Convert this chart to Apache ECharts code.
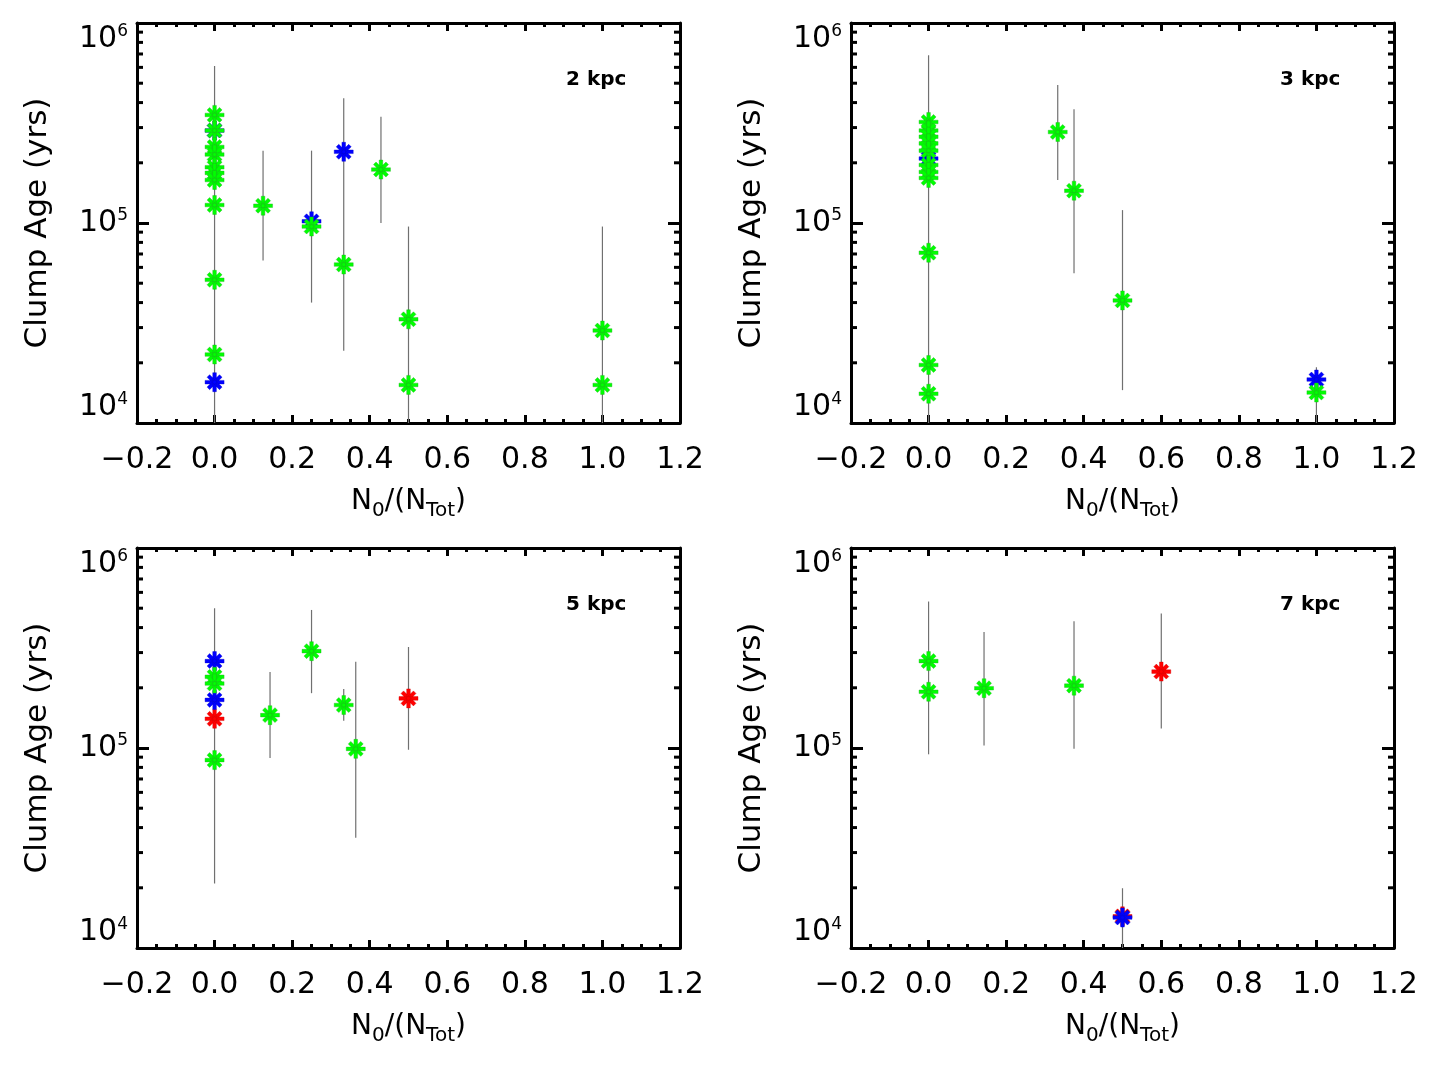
<!DOCTYPE html>
<html>
<head>
    <meta charset="utf-8"/>
    <script src="https://cdn.jsdelivr.net/npm/echarts@6/dist/echarts.min.js"></script>
    <style>
        body { margin: 0; background: #fff; }
    </style>
</head>
<body>
<div id="main" style="width: 1432px;height:1066px;"></div>
<script type="text/javascript">
    // x axis: N0/(NTot), y axis: clump age (yrs), one set per panel
    var X_MIN = -0.2, X_MAX = 1.2;
    var AGE_MIN = 1e4, AGE_MAX = 1e6;
    var ageMinorTicks = [2e4, 3e4, 4e4, 5e4, 6e4, 7e4, 8e4, 9e4,
                         2e5, 3e5, 4e5, 5e5, 6e5, 7e5, 8e5, 9e5];

    // 2 kpc
    var kpc2Green = [[0, 3.47e5], [0, 2.9e5], [0, 2.4e5], [0, 2.2e5], [0, 1.9e5], [0, 1.78e5],
                     [0, 1.64e5], [0, 1.23e5], [0, 5.2e4], [0, 2.2e4], [0.125, 1.22e5],
                     [0.25, 9.6e4], [0.333, 6.2e4], [0.429, 1.85e5], [0.5, 3.3e4], [0.5, 1.55e4],
                     [1.0, 2.9e4], [1.0, 1.55e4]];
    var kpc2Blue = [[0, 2.9e5], [0, 1.6e4], [0.25, 1.02e5], [0.333, 2.27e5]];
    var kpc2Red = [];
    var kpc2Err = [[0, 1e4, 6.1e5], [0.125, 6.5e4, 2.3e5], [0.25, 4.0e4, 2.3e5], [0.333, 2.3e4, 4.2e5],
                   [0.429, 1.0e5, 3.4e5], [0.5, 1e4, 9.6e4], [1.0, 1e4, 9.6e4]];

    // 3 kpc
    var kpc3Green = [[0, 3.2e5], [0, 2.9e5], [0, 2.7e5], [0, 2.5e5], [0, 2.3e5], [0, 1.95e5],
                     [0, 1.8e5], [0, 1.68e5], [0, 7.1e4], [0, 1.95e4], [0, 1.4e4],
                     [0.333, 2.85e5], [0.375, 1.45e5], [0.5, 4.1e4], [1.0, 1.42e4]];
    var kpc3Blue = [[0, 2.1e5], [1.0, 1.65e4]];
    var kpc3Red = [];
    var kpc3Err = [[0, 1e4, 6.9e5], [0.333, 1.64e5, 4.9e5], [0.375, 5.6e4, 3.7e5],
                   [0.5, 1.46e4, 1.16e5], [1.0, 1e4, 1.9e4]];

    // 5 kpc
    var kpc5Green = [[0, 2.27e5], [0, 2.1e5], [0, 8.7e4], [0.143, 1.46e5], [0.25, 3.05e5],
                     [0.333, 1.64e5], [0.364, 9.9e4]];
    var kpc5Blue = [[0, 2.72e5], [0, 1.74e5]];
    var kpc5Red = [[0, 1.4e5], [0.5, 1.77e5]];
    var kpc5Err = [[0, 2.1e4, 5.0e5], [0.143, 8.9e4, 2.4e5], [0.25, 1.88e5, 4.9e5],
                   [0.333, 1.37e5, 1.97e5], [0.364, 3.56e4, 2.7e5], [0.5, 9.8e4, 3.2e5]];

    // 7 kpc
    var kpc7Green = [[0, 2.72e5], [0, 1.91e5], [0.143, 1.99e5], [0.375, 2.05e5]];
    var kpc7Blue = [[0.5, 1.42e4]];
    var kpc7Red = [[0.6, 2.41e5], [0.5, 1.44e4]];
    var kpc7Err = [[0, 9.3e4, 5.4e5], [0.143, 1.03e5, 3.8e5], [0.375, 9.9e4, 4.3e5],
                   [0.6, 1.25e5, 4.7e5], [0.5, 1e4, 1.99e4]];

    var panels = [
        {label: '2 kpc', green: kpc2Green, blue: kpc2Blue, red: kpc2Red, err: kpc2Err},
        {label: '3 kpc', green: kpc3Green, blue: kpc3Blue, red: kpc3Red, err: kpc3Err},
        {label: '5 kpc', green: kpc5Green, blue: kpc5Blue, red: kpc5Red, err: kpc5Err},
        {label: '7 kpc', green: kpc7Green, blue: kpc7Blue, red: kpc7Red, err: kpc7Err}
    ];
    var gridPos = [[137, 23], [851, 23], [137, 548], [851, 548]];

    var FONT = 'DejaVu Sans';
    // 8-armed asterisk like IDL psym=2
    var ASTERISK = 'path://M8.2,0.5L11.8,0.5L11.8,19.5L8.2,19.5Z' +
        'M0.5,8.2L19.5,8.2L19.5,11.8L0.5,11.8Z' +
        'M5.053,2.507L17.493,14.947L14.947,17.493L2.507,5.053Z' +
        'M14.947,2.507L17.493,5.053L5.053,17.493L2.507,14.947Z';

    var myChart = echarts.init(document.getElementById('main'));

    var grids = [], xAxes = [], yAxes = [], series = [], titles = [];

    panels.forEach(function (p, i) {
        grids.push({left: gridPos[i][0], top: gridPos[i][1], width: 543, height: 400});
        titles.push({
            text: p.label, left: gridPos[i][0] + 424, top: gridPos[i][1] + 42,
            textStyle: {fontFamily: FONT, fontSize: 20, fontWeight: 'bold', color: '#000'}
        });

        var xBase = {
            type: 'value', gridIndex: i, min: X_MIN, max: X_MAX, interval: 0.2,
            axisLine: {onZero: false, lineStyle: {color: '#000', width: 3}},
            axisTick: {inside: true, length: 8, lineStyle: {color: '#000', width: 3}},
            minorTick: {show: true, splitNumber: 4, length: 4, lineStyle: {color: '#000', width: 3}},
            splitLine: {show: false}
        };
        xAxes.push(Object.assign({}, xBase, {
            position: 'bottom',
            name: 'N{sub|0}/(N{sub|Tot})',
            nameLocation: 'middle',
            nameGap: 60,
            nameTextStyle: {
                fontFamily: FONT, fontSize: 28, color: '#000',
                rich: {sub: {fontFamily: FONT, fontSize: 20, padding: [18, 0, 0, 0], color: '#000'}}
            },
            axisLabel: {
                margin: 22, fontFamily: FONT, fontSize: 30, color: '#000',
                formatter: function (v) { return v.toFixed(1).replace('-', '\u2212'); }
            }
        }));
        xAxes.push(Object.assign({}, xBase, {position: 'top', axisLabel: {show: false}}));

        var yBase = {
            type: 'log', logBase: 10, gridIndex: i, min: AGE_MIN, max: AGE_MAX,
            axisLine: {onZero: false, lineStyle: {color: '#000', width: 3}},
            axisTick: {inside: true, length: 12, lineStyle: {color: '#000', width: 3}},
            splitLine: {show: false}
        };
        yAxes.push(Object.assign({}, yBase, {
            position: 'left',
            name: 'Clump Age (yrs)',
            nameLocation: 'middle',
            nameGap: 84,
            nameTextStyle: {fontFamily: FONT, fontSize: 31, color: '#000'},
            axisLabel: {
                margin: 9, fontFamily: FONT, fontSize: 30, color: '#000',
                verticalAlignMinLabel: 'bottom', verticalAlignMaxLabel: 'top',
                formatter: function (v) { return '10{sup|' + Math.round(Math.log10(v)) + '}'; },
                rich: {sup: {fontFamily: FONT, fontSize: 17, padding: [0, 0, 15, 0], color: '#000'}}
            }
        }));
        yAxes.push(Object.assign({}, yBase, {position: 'right', axisLabel: {show: false}}));

        var xi = i * 2, yi = i * 2;

        // minor log ticks on left and right frame
        series.push({
            type: 'custom', xAxisIndex: xi, yAxisIndex: yi, silent: true,
            data: ageMinorTicks.map(function (v) { return [X_MIN, v]; }),
            renderItem: function (params, api) {
                var l = api.coord([X_MIN, api.value(1)]);
                var r = api.coord([X_MAX, api.value(1)]);
                return {
                    type: 'group', children: [
                        {type: 'line', shape: {x1: l[0], y1: l[1], x2: l[0] + 6, y2: l[1]},
                            style: {stroke: '#000', lineWidth: 3}},
                        {type: 'line', shape: {x1: r[0] - 6, y1: r[1], x2: r[0], y2: r[1]},
                            style: {stroke: '#000', lineWidth: 3}}
                    ]
                };
            }
        });

        // error bars
        series.push({
            type: 'custom', xAxisIndex: xi, yAxisIndex: yi, silent: true,
            data: p.err,
            encode: {x: 0, y: [1, 2]},
            renderItem: function (params, api) {
                var lo = api.coord([api.value(0), api.value(1)]);
                var hi = api.coord([api.value(0), api.value(2)]);
                return {
                    type: 'line', shape: {x1: lo[0], y1: lo[1], x2: hi[0], y2: hi[1]},
                    style: {stroke: '#707070', lineWidth: 1.2}
                };
            }
        });

        [['red', '#ff0000', '#d40000'], ['blue', '#0000ff', '#0000d0'], ['green', '#00ff00', '#1fb21f']].forEach(function (c) {
            series.push({
                type: 'scatter', xAxisIndex: xi, yAxisIndex: yi,
                data: p[c[0]],
                symbol: ASTERISK, symbolSize: 19,
                itemStyle: {color: c[1], opacity: 1, borderColor: c[2], borderWidth: 0.4}
            });
        });
    });

    var option = {
        animation: false,
        backgroundColor: '#fff',
        title: titles,
        grid: grids,
        xAxis: xAxes,
        yAxis: yAxes,
        series: series
    };

    myChart.setOption(option);
</script>
</body>
</html>
